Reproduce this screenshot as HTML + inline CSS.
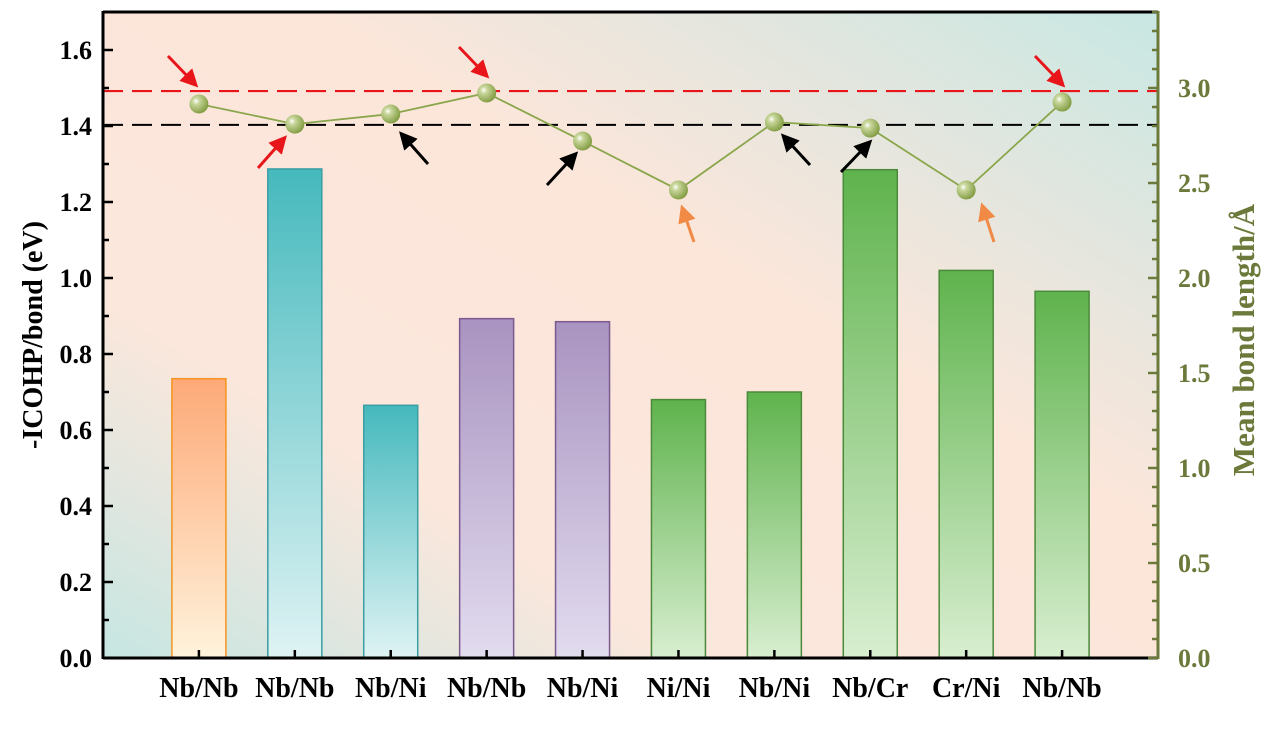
<!DOCTYPE html>
<html><head><meta charset="utf-8"><style>
body{margin:0;background:#fff;}
svg text{font-family:"Liberation Serif",serif;font-weight:bold;}
</style></head><body>
<svg id="chart" width="1269" height="724" viewBox="0 0 1269 724" xmlns="http://www.w3.org/2000/svg">
<defs>
<linearGradient id="bg" x1="0" y1="1" x2="1" y2="0">
<stop offset="0" stop-color="#c6e6e2"/><stop offset="0.28" stop-color="#fce7dc"/><stop offset="0.6" stop-color="#fce6da"/><stop offset="1" stop-color="#c8e7e3"/>
</linearGradient>
<linearGradient id="gOr" x1="0" y1="0" x2="0" y2="1"><stop offset="0" stop-color="#fda977"/><stop offset="1" stop-color="#fff3dc"/></linearGradient>
<linearGradient id="gTe" x1="0" y1="0" x2="0" y2="1"><stop offset="0" stop-color="#45b9bd"/><stop offset="1" stop-color="#dff3f4"/></linearGradient>
<linearGradient id="gPu" x1="0" y1="0" x2="0" y2="1"><stop offset="0" stop-color="#a993c0"/><stop offset="1" stop-color="#e2dcef"/></linearGradient>
<linearGradient id="gGr" x1="0" y1="0" x2="0" y2="1"><stop offset="0" stop-color="#5fb34d"/><stop offset="1" stop-color="#d8eed0"/></linearGradient>
<radialGradient id="ball" cx="0.35" cy="0.35" r="0.7"><stop offset="0" stop-color="#ffffff"/><stop offset="0.25" stop-color="#c9d79c"/><stop offset="1" stop-color="#7f9a3e"/></radialGradient>
<marker id="aR" markerWidth="6" markerHeight="6" refX="3" refY="3" orient="auto" markerUnits="strokeWidth"><path d="M0,0 L6,3 L0,6 z" fill="#e8161b"/></marker>
<marker id="aK" markerWidth="6" markerHeight="6" refX="3" refY="3" orient="auto" markerUnits="strokeWidth"><path d="M0,0 L6,3 L0,6 z" fill="#000"/></marker>
<marker id="aO" markerWidth="6" markerHeight="6" refX="3" refY="3" orient="auto" markerUnits="strokeWidth"><path d="M0,0 L6,3 L0,6 z" fill="#f08a45"/></marker>
</defs>
<rect x="103" y="12" width="1055" height="646" fill="url(#bg)"/>
<g id="bars"></g><g id="refs"></g><g id="line"></g><g id="arrows"></g><g id="axes"></g>
</svg>
<script>
const categories=["Nb/Nb","Nb/Nb","Nb/Ni","Nb/Nb","Nb/Ni","Ni/Ni","Nb/Ni","Nb/Cr","Cr/Ni","Nb/Nb"];
const icohp=[0.735,1.287,0.665,0.893,0.885,0.68,0.70,1.285,1.02,0.965];
const bondLength=[2.916,2.81,2.863,2.974,2.721,2.463,2.821,2.789,2.463,2.926];
const barFills=["gOr","gTe","gTe","gPu","gPu","gGr","gGr","gGr","gGr","gGr"];
const barStrokes=["#f7931e","#3a9ea3","#3a9ea3","#7a5a8f","#7a5a8f","#4a8a3a","#4a8a3a","#4a8a3a","#4a8a3a","#4a8a3a"];
const leftTicks=[0,0.2,0.4,0.6,0.8,1.0,1.2,1.4,1.6];
const rightTicks=[0,0.5,1.0,1.5,2.0,2.5,3.0];
const redRef=1.492, blackRef=1.403;
const L=103,R=1158,T=12,B=658;
const x=i=>L+(R-L)*(i+1)/11;
const yL=v=>B-(B-T)*v/1.7;
const yR=v=>B-(B-T)*v/3.4;
const NS="http://www.w3.org/2000/svg";
function mk(tag,attrs,parent,txt){const e=document.createElementNS(NS,tag);for(const k in attrs)e.setAttribute(k,attrs[k]);if(txt!=null)e.textContent=txt;document.getElementById(parent).appendChild(e);return e;}
icohp.forEach((v,i)=>{
 const e=mk("rect",{x:x(i)-27,y:yL(v),width:54,height:B-yL(v),fill:"url(#"+barFills[i]+")",stroke:barStrokes[i],"stroke-width":1.5},"bars");
 
 
});
let e=mk("line",{x1:L,x2:R,y1:yL(redRef),y2:yL(redRef),stroke:"#e8161b","stroke-width":2.2,"stroke-dasharray":"20 9"},"refs");

e=mk("line",{x1:L,x2:R,y1:yL(blackRef),y2:yL(blackRef),stroke:"#000","stroke-width":2,"stroke-dasharray":"20 9"},"refs");

e=mk("polyline",{points:bondLength.map((v,i)=>x(i)+","+yR(v)).join(" "),fill:"none",stroke:"#8aa64a","stroke-width":1.8},"line");

bondLength.forEach((v,i)=>{
 const c=mk("circle",{cx:x(i),cy:yR(v),r:9.5,fill:"url(#ball)"},"line");
 
 
});
const arrows=[[168,56,192,81,"R"],[258,168,281,142,"R"],[459,47,483,72,"R"],[1035,56,1059,81,"R"],
[428,164,405,138,"K"],[547,185,572,158,"K"],[810,165,787,140,"K"],[841,172,866,146,"K"],[694,242,684,213,"O"],[994,242,984,211,"O"]];
const ac={R:"#e8161b",K:"#000",O:"#f08a45"};
arrows.forEach((a,i)=>{
 const l=mk("line",{x1:a[0],y1:a[1],x2:a[2],y2:a[3],stroke:ac[a[4]],"stroke-width":3,"marker-end":"url(#a"+a[4]+")"},"arrows");
 
 
});
const ol="#6b7a3a";
mk("line",{x1:L,x2:R,y1:T,y2:T,stroke:"#000","stroke-width":3},"axes");
mk("line",{x1:L,x2:R,y1:B,y2:B,stroke:"#000","stroke-width":3},"axes");
mk("line",{x1:L,x2:L,y1:T-1,y2:B+1,stroke:"#000","stroke-width":3},"axes");
mk("line",{x1:R,x2:R,y1:T-1,y2:B+1,stroke:ol,"stroke-width":3},"axes");
for(let k=0;k<=17;k++){const yy=yL(k/10);mk("line",{x1:L,x2:L+(k%2?6:10),y1:yy,y2:yy,stroke:"#000","stroke-width":2.5},"axes");}
leftTicks.forEach(v=>{const t=mk("text",{x:L-11,y:yL(v)+9,"text-anchor":"end","font-size":26,fill:"#000"},"axes",v.toFixed(1));});
for(let k=0;k<=34;k++){const yy=yR(k/10);mk("line",{x1:R,x2:R-(k%5?6:10),y1:yy,y2:yy,stroke:ol,"stroke-width":2.5},"axes");}
rightTicks.forEach(v=>{const t=mk("text",{x:R+20,y:yR(v)+9,"font-size":26,fill:ol},"axes",v.toFixed(1));});
categories.forEach((c,i)=>{
 mk("line",{x1:x(i),x2:x(i),y1:B,y2:B-8,stroke:"#000","stroke-width":2.5},"axes");
 const t=mk("text",{x:x(i),y:B+39,"text-anchor":"middle","font-size":28,fill:"#000"},"axes",c);
 
});
let t=mk("text",{transform:"translate(42,335) rotate(-90)","text-anchor":"middle","font-size":28,fill:"#000"},"axes","-ICOHP/bond (eV)");

t=mk("text",{transform:"translate(1254,340) rotate(-90)","text-anchor":"middle","font-size":31,fill:ol},"axes","Mean bond length/Å");

</script>
</body></html>
